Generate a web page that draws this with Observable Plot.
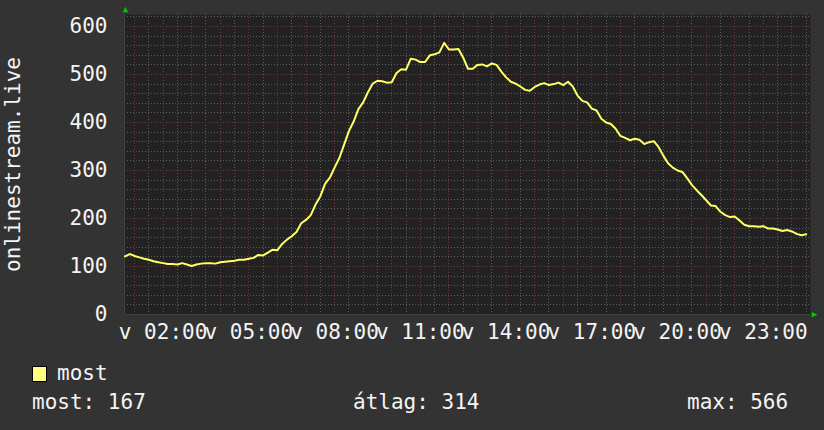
<!DOCTYPE html>
<html>
<head>
<meta charset="utf-8">
<script src="https://cdn.jsdelivr.net/npm/d3@7"></script>
<script src="https://cdn.jsdelivr.net/npm/@observablehq/plot@0.6"></script>
<style>
  html, body { margin: 0; padding: 0; background: #333333; }
  #wrap { width: 824px; height: 430px; background: #333333; position: relative; overflow: hidden; }
  #legend { position: relative; width: 824px; height: 80px; font-family: "DejaVu Sans Mono", monospace; font-size: 21px; color: #f4f4f4; }
  #legend div { position: absolute; line-height: 20px; white-space: pre; }
  #legend .sw { width: 13px; height: 14px; background: #ffff80; border: 1px solid #000; }
</style>
</head>
<body>
<div id="wrap">
  <div id="chart"></div>
  <div id="legend"></div>
</div>
<script>
// ---- data (values every 10 minutes, starting Sunday 00:40) ----
const seriesName = "most";
const yTitle = "onlinestream.live";
const values = [
  121, 126, 122, 119, 116, 114, 111, 109, 107, 105,
  105, 104, 107, 104, 101, 104, 106, 107, 107, 106,
  109, 110, 111, 112, 114, 114, 116, 118, 124, 123,
  129, 135, 134, 147, 156, 163, 172, 190, 197, 207,
  229, 246, 272, 285, 306, 326, 354, 382, 402, 428,
  442, 463, 481, 487, 486, 483, 484, 503, 511, 510,
  533, 531, 526, 526, 540, 542, 546, 566, 552, 552,
  553, 535, 512, 512, 520, 521, 517, 523, 520, 506,
  494, 485, 481, 475, 468, 466, 474, 479, 482, 478,
  480, 483, 478, 485, 475, 456, 445, 442, 429, 425,
  408, 400, 397, 387, 372, 368, 363, 366, 364, 355,
  359, 361, 349, 331, 315, 306, 300, 297, 284, 270,
  259, 249, 238, 227, 226, 214, 207, 203, 204, 196,
  187, 184, 184, 183, 184, 179, 179, 177, 174, 176,
  173, 168, 165, 167
];
const stepMinutes = 10;
const firstSample = new Date(2024, 0, 7, 0, 40);
const domainStart = new Date(2024, 0, 7, 0, 39);
const domainEnd = new Date(2024, 0, 8, 0, 39);
const xLabelHours = [2, 5, 8, 11, 14, 17, 20, 23];
const dayAbbrev = "v";
const yMajor = [0, 100, 200, 300, 400, 500, 600];
const yMinorStep = 20;
const yMax = 625;
const legendStats = [
  {label: "most", value: "167"},
  {label: "átlag", value: "314"},
  {label: "max", value: "566"}
];

// ---- derived tables ----
const data = values.map((v, i) => ({t: new Date(+firstSample + i * stepMinutes * 60000), v}));
const xTicks = xLabelHours.map(h => new Date(2024, 0, 7, h, 0));
const hourLines = d3.timeHour.every(1).range(domainStart, domainEnd);
const halfHourLines = d3.timeMinute.every(30).range(domainStart, domainEnd).filter(d => d.getMinutes() === 30);
const yMinor = d3.range(0, yMax, yMinorStep).filter(v => v % 100 !== 0);
const fmt = d3.timeFormat("%H:%M");

const gridMinor = {stroke: "#5c5c5c", strokeWidth: 1, strokeDasharray: "1,2", shapeRendering: "crispEdges"};
const gridMajor = {stroke: "#743838", strokeWidth: 1, strokeDasharray: "1,2", shapeRendering: "crispEdges"};

const chart = Plot.plot({
  width: 824,
  height: 350,
  marginLeft: 124,
  marginRight: 14,
  marginTop: 14,
  marginBottom: 36,
  style: {background: "#333333", color: "#f4f4f4", fontFamily: "DejaVu Sans Mono", fontSize: "21px", overflow: "visible"},
  x: {type: "time", domain: [domainStart, domainEnd]},
  y: {domain: [0, yMax]},
  marks: [
    Plot.frame({fill: "#222222", stroke: null}),
    Plot.ruleY(yMinor, gridMinor),
    Plot.ruleX(halfHourLines, gridMinor),
    Plot.ruleY(yMajor.filter(v => v > 0), gridMajor),
    Plot.ruleX(hourLines, gridMajor),
    Plot.ruleY([0], {stroke: "#404040", strokeWidth: 1, shapeRendering: "crispEdges"}),
    Plot.ruleX([domainStart], {stroke: "#404040", strokeWidth: 1, shapeRendering: "crispEdges"}),
    Plot.line(data, {x: "t", y: "v", stroke: "#ffff66", strokeWidth: 2, curve: "linear"}),
    Plot.axisX({ticks: xTicks, tickFormat: d => dayAbbrev + " " + fmt(d), tickSize: 0, tickPadding: 10, label: null, fill: "#f4f4f4"}),
    Plot.axisY({ticks: yMajor, tickSize: 0, tickPadding: 17, label: null, fill: "#f4f4f4"}),
    Plot.text([yTitle], {frameAnchor: "left", textAnchor: "middle", rotate: -90, dx: -111, fill: "#f4f4f4", fontSize: 21}),
    Plot.text(["▲"], {x: domainStart, y: yMax, dy: -5, dx: 1, fill: "#00cc00", fontSize: 9}),
    Plot.text(["▶"], {x: domainEnd, y: 0, dx: 4, fill: "#00cc00", fontSize: 9})
  ]
});
document.getElementById("chart").appendChild(chart);

// ---- legend ----
const lg = document.getElementById("legend");
function add(cls, text, left, top) {
  const d = document.createElement("div");
  if (cls) d.className = cls;
  d.textContent = text;
  d.style.left = left + "px";
  d.style.top = top + "px";
  lg.appendChild(d);
}
add("sw", "", 32, 16);
add(null, seriesName, 57, 13);
const statLefts = [32, 353, 687];
legendStats.forEach((s, i) => add(null, s.label + ": " + s.value, statLefts[i], 42));
</script>
</body>
</html>
